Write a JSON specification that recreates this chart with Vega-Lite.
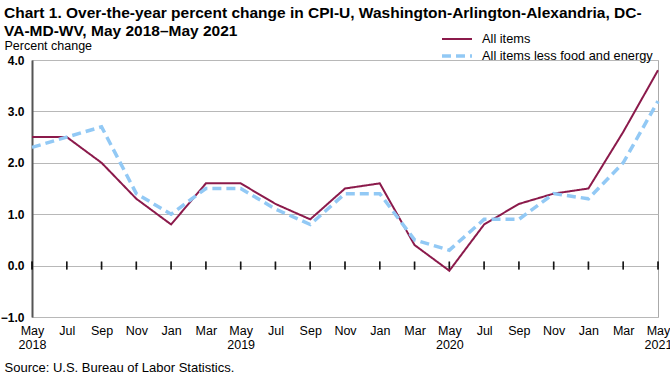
{
  "$schema": "https://vega.github.io/schema/vega-lite/v6.json",
  "width": 626,
  "height": 257,
  "autosize": "none",
  "padding": {"left": 32, "top": 60, "right": 12, "bottom": 56},
  "background": "white",
  "title": {
    "text": ["Chart 1. Over-the-year percent change in CPI-U, Washington-Arlington-Alexandria, DC-", "VA-MD-WV, May 2018–May 2021"],
    "anchor": "start",
    "frame": "group",
    "dx": -28,
    "offset": -8.5,
    "font": "Liberation Sans",
    "fontSize": 15.5,
    "fontWeight": "bold",
    "lineHeight": 18,
    "color": "#000"
  },
  "data": {
    "values": [
      {"date": "2018-05", "series": "All items", "v": 2.5},
      {"date": "2018-07", "series": "All items", "v": 2.5},
      {"date": "2018-09", "series": "All items", "v": 2.0},
      {"date": "2018-11", "series": "All items", "v": 1.3},
      {"date": "2019-01", "series": "All items", "v": 0.8},
      {"date": "2019-03", "series": "All items", "v": 1.6},
      {"date": "2019-05", "series": "All items", "v": 1.6},
      {"date": "2019-07", "series": "All items", "v": 1.2},
      {"date": "2019-09", "series": "All items", "v": 0.9},
      {"date": "2019-11", "series": "All items", "v": 1.5},
      {"date": "2020-01", "series": "All items", "v": 1.6},
      {"date": "2020-03", "series": "All items", "v": 0.4},
      {"date": "2020-05", "series": "All items", "v": -0.1},
      {"date": "2020-07", "series": "All items", "v": 0.8},
      {"date": "2020-09", "series": "All items", "v": 1.2},
      {"date": "2020-11", "series": "All items", "v": 1.4},
      {"date": "2021-01", "series": "All items", "v": 1.5},
      {"date": "2021-03", "series": "All items", "v": 2.6},
      {"date": "2021-05", "series": "All items", "v": 3.8},
      {"date": "2018-05", "series": "All items less food and energy", "v": 2.3},
      {"date": "2018-07", "series": "All items less food and energy", "v": 2.5},
      {"date": "2018-09", "series": "All items less food and energy", "v": 2.7},
      {"date": "2018-11", "series": "All items less food and energy", "v": 1.4},
      {"date": "2019-01", "series": "All items less food and energy", "v": 1.0},
      {"date": "2019-03", "series": "All items less food and energy", "v": 1.5},
      {"date": "2019-05", "series": "All items less food and energy", "v": 1.5},
      {"date": "2019-07", "series": "All items less food and energy", "v": 1.1},
      {"date": "2019-09", "series": "All items less food and energy", "v": 0.8},
      {"date": "2019-11", "series": "All items less food and energy", "v": 1.4},
      {"date": "2020-01", "series": "All items less food and energy", "v": 1.4},
      {"date": "2020-03", "series": "All items less food and energy", "v": 0.5},
      {"date": "2020-05", "series": "All items less food and energy", "v": 0.3},
      {"date": "2020-07", "series": "All items less food and energy", "v": 0.9},
      {"date": "2020-09", "series": "All items less food and energy", "v": 0.9},
      {"date": "2020-11", "series": "All items less food and energy", "v": 1.4},
      {"date": "2021-01", "series": "All items less food and energy", "v": 1.3},
      {"date": "2021-03", "series": "All items less food and energy", "v": 2.0},
      {"date": "2021-05", "series": "All items less food and energy", "v": 3.2}
    ]
  },
  "encoding": {
    "x": {
      "field": "date",
      "type": "ordinal",
      "scale": {"type": "point", "padding": 0},
      "axis": {
        "labelAngle": 0,
        "labelExpr": "slice(datum.value,5)=='05' ? [utcFormat(toDate(datum.value+'-15'),'%b'), slice(datum.value,0,4)] : utcFormat(toDate(datum.value+'-15'),'%b')",
        "labelFont": "Liberation Sans",
        "labelFontSize": 12.5,
        "labelColor": "#000",
        "labelLineHeight": 14,
        "labelPadding": 7,
        "labelBaseline": "top",
        "ticks": false,
        "domain": false,
        "grid": false,
        "title": "Source: U.S. Bureau of Labor Statistics.",
        "titleX": -28,
        "titleY": 54,
        "titleAlign": "left",
        "titleAnchor": null,
        "titleBaseline": "alphabetic",
        "titleFont": "Liberation Sans",
        "titleFontSize": 13,
        "titleFontWeight": "normal",
        "titleColor": "#000"
      }
    }
  },
  "layer": [
    {
      "mark": {"type": "rule", "color": "#000", "strokeWidth": 1.5},
      "encoding": {"y": {"datum": 0, "type": "quantitative"}}
    },
    {
      "mark": {"type": "tick", "orient": "vertical", "color": "#000", "size": 8, "thickness": 1.5},
      "encoding": {"y": {"datum": 0, "type": "quantitative"}}
    },
    {
      "mark": {"type": "line", "strokeJoin": "miter"},
      "encoding": {
        "y": {
          "field": "v",
          "type": "quantitative",
          "scale": {"domain": [-1, 4], "nice": false, "zero": false},
          "axis": {
            "values": [-1, 0, 1, 2, 3, 4],
            "format": ".1f",
            "grid": true,
            "gridColor": "#b8b8b8",
            "gridWidth": 1,
            "ticks": false,
            "domain": true,
            "domainColor": "#555",
            "domainWidth": 2,
            "labelFont": "Liberation Sans",
            "labelFontSize": 12,
            "labelFontWeight": "bold",
            "labelColor": "#000",
            "labelPadding": 8,
            "title": "Percent change",
            "titleAngle": 0,
            "titleAlign": "left",
            "titleBaseline": "alphabetic",
            "titleX": -28,
            "titleY": -11,
            "titleFont": "Liberation Sans",
            "titleFontSize": 12.5,
            "titleFontWeight": "normal",
            "titleColor": "#000"
          }
        },
        "color": {
          "field": "series",
          "type": "nominal",
          "scale": {"domain": ["All items", "All items less food and energy"], "range": ["#8b1a4b", "#92c9f5"]},
          "legend": {
            "orient": "none",
            "legendX": 415.5,
            "legendY": -29.5,
            "title": null,
            "symbolType": "M-2,0H2",
            "symbolSize": 225,
            "labelFont": "Liberation Sans",
            "labelFontSize": 12.8,
            "labelColor": "#000",
            "labelLimit": 250,
            "rowPadding": -4,
            "labelOffset": 15.5
          }
        },
        "strokeDash": {
          "field": "series",
          "type": "nominal",
          "scale": {"domain": ["All items", "All items less food and energy"], "range": [[1, 0], [9, 5]]}
        },
        "strokeWidth": {
          "field": "series",
          "type": "nominal",
          "scale": {"domain": ["All items", "All items less food and energy"], "range": [2, 3.5]}
        }
      }
    }
  ],
  "config": {
    "view": {"stroke": "#aaa", "strokeWidth": 1}
  }
}
